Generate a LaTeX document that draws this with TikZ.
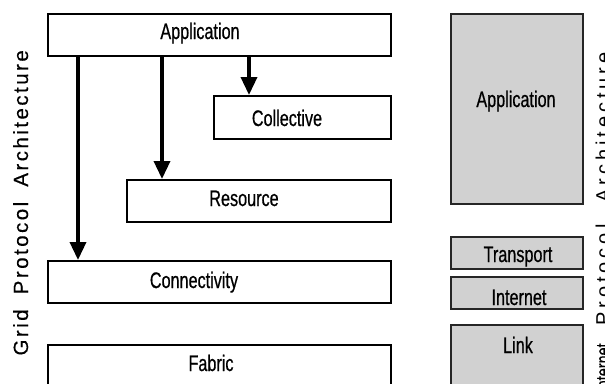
\documentclass[tikz,border=0pt]{standalone}
\usepackage{fontspec}
\setmainfont{Liberation Sans}
\newfontfamily\boxfont[FakeStretch=0.72,FakeBold=0.6]{Liberation Sans}
\newfontfamily\gridfont[LetterSpace=12,FakeBold=0.3]{Liberation Sans}
\newfontfamily\inetfont[LetterSpace=20]{Liberation Sans}
\newfontfamily\inetplain[FakeBold=0.4]{Liberation Sans}
\usetikzlibrary{arrows.meta}
\begin{document}
\begin{tikzpicture}[x=1pt,y=-1pt,
  gbox/.style={draw=black,line width=2pt,fill=white,inner sep=0pt},
  ibox/.style={draw=black!85,line width=1.6pt,fill=black!18,inner sep=0pt},
  txt/.style={anchor=base,inner sep=0pt,font=\boxfont\fontsize{22.5}{26}\selectfont},
  arr/.style={line width=3.5pt,-{Triangle[width=16pt,length=18pt]}},
  sidelbl/.style={rotate=90,anchor=base east,inner sep=0pt}]
\useasboundingbox (0,0) rectangle (605,383);
\clip (0,0) rectangle (605,383);
\fill[white] (0,0) rectangle (605,383);
% Grid protocol architecture
\node[gbox,minimum width=343pt,minimum height=42pt] (gapp) at (219.5,35) {};
\node[gbox,minimum width=177pt,minimum height=43pt] (gcol) at (302.5,117.5) {};
\node[gbox,minimum width=264pt,minimum height=42pt] (gres) at (259,201) {};
\node[gbox,minimum width=343pt,minimum height=42pt] (gcon) at (219.5,282) {};
\node[gbox,minimum width=343pt,minimum height=42pt] (gfab) at (219.5,366) {};
\node[txt] (tgapp) at (200,39) {Application};
\node[txt] (tgcol) at (287,126) {Collective};
\node[txt] (tgres) at (244,206) {Resource};
\node[txt] (tgcon) at (194,288) {Connectivity};
\node[txt] (tgfab) at (211,371) {Fabric};
\draw[arr] ([xshift=31pt]gapp.south west) -- ([xshift=31pt]gcon.north west);
\draw[arr] ([xshift=115pt]gapp.south west) -- ([xshift=36pt]gres.north west);
\draw[arr] ([xshift=202pt]gapp.south west) -- ([xshift=36pt]gcol.north west);
% Internet protocol architecture
\node[ibox,minimum width=132pt,minimum height=190pt] (iapp) at (517,109) {};
\node[ibox,minimum width=132pt,minimum height=32pt] (itra) at (517,253) {};
\node[ibox,minimum width=132pt,minimum height=32pt] (iint) at (517,293) {};
\node[ibox,minimum width=132pt,minimum height=70pt] (ilin) at (517,360) {};
\node[txt] (tiapp) at (516,107) {Application};
\node[txt] (titra) at (518,262) {Transport};
\node[txt] (tiint) at (519,305) {Internet};
\node[txt] (tilin) at (518,353) {Link};
% side labels
\node[sidelbl,font=\gridfont\fontsize{20.5}{24}\selectfont] (glbl) at (28,50)
  {Grid\hspace{7pt} Protocol\hspace{7pt} Architecture};
\node[sidelbl,font=\inetfont\fontsize{20}{24}\selectfont] (ilbl) at (610,52)
  {\scalebox{0.72}[1]{\inetplain\fontsize{20}{24}\selectfont Internet}\hspace{8pt} Protocol\hspace{12pt} Architecture};
\end{tikzpicture}
\end{document}
